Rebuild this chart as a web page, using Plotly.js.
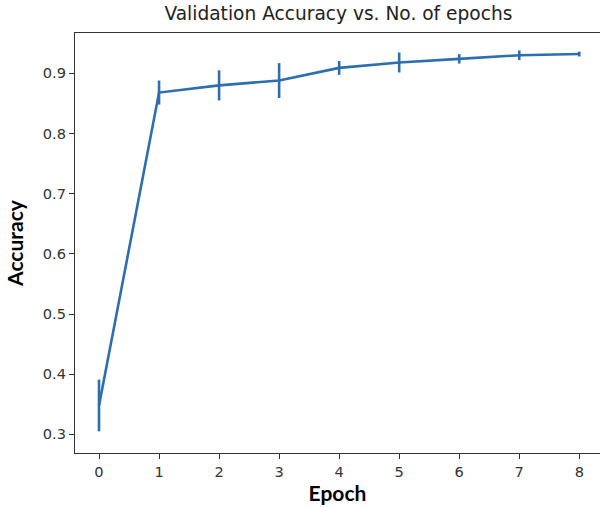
<!DOCTYPE html>
<html>
<head>
<meta charset="utf-8">
<script src="https://cdn.plot.ly/plotly-3.0.1.min.js"></script>
<style>
html,body{margin:0;padding:0;overflow:hidden;background:#fff;}
#chart{width:600px;height:508px;}
</style>
</head>
<body>
<div id="chart"></div>
<script>
// Data
const epochs = [0, 1, 2, 3, 4, 5, 6, 7, 8];
const accuracy = [0.348, 0.868, 0.880, 0.888, 0.909, 0.918, 0.924, 0.930, 0.932];
const accuracyErr = [0.043, 0.020, 0.025, 0.029, 0.0115, 0.0166, 0.0078, 0.008, 0.004];
const xTicks = [0, 1, 2, 3, 4, 5, 6, 7, 8];
const yTicks = [0.3, 0.4, 0.5, 0.6, 0.7, 0.8, 0.9];

const lineColor = '#2d6eaf';

const trace = {
  x: epochs,
  y: accuracy,
  type: 'scatter',
  mode: 'lines',
  line: {color: lineColor, width: 2.6},
  error_y: {type: 'data', array: accuracyErr, visible: true, color: lineColor, thickness: 2.6, width: 0},
  hoverinfo: 'x+y'
};

const tickFont = {family: 'DejaVu Sans', size: 14.6, color: '#333'};
const labelFont = {family: 'Lato', size: 21, color: '#000', weight: 'bold'};

const layout = {
  width: 600,
  height: 508,
  margin: {l: 75, r: 0, t: 33, b: 55},
  paper_bgcolor: '#fff',
  plot_bgcolor: '#fff',
  showlegend: false,
  title: {
    text: 'Validation Accuracy vs. No. of epochs',
    font: {family: 'DejaVu Sans', size: 18.6, color: '#222'},
    x: 0.564, xanchor: 'center',
    y: 0.974, yanchor: 'middle', yref: 'container'
  },
  xaxis: {
    range: [-0.4, 8.345],
    tickmode: 'array',
    tickvals: xTicks,
    ticktext: xTicks.map(String),
    ticks: 'outside', ticklen: 5, tickwidth: 1.2, tickcolor: '#333',
    showgrid: false, zeroline: false,
    showline: true, linecolor: '#333', linewidth: 1.3, mirror: true,
    tickfont: tickFont,
    title: {text: 'Epoch', font: labelFont, standoff: 4}
  },
  yaxis: {
    range: [0.269, 0.967],
    tickmode: 'array',
    tickvals: yTicks,
    ticktext: yTicks.map(v => v.toFixed(1)),
    ticks: 'outside', ticklen: 5, tickwidth: 1.2, tickcolor: '#333',
    showgrid: false, zeroline: false,
    showline: true, linecolor: '#333', linewidth: 1.3, mirror: false,
    tickfont: tickFont,
    title: {text: 'Accuracy', font: labelFont, standoff: 13}
  }
};

Plotly.newPlot('chart', [trace], layout, {displayModeBar: false});
</script>
</body>
</html>
